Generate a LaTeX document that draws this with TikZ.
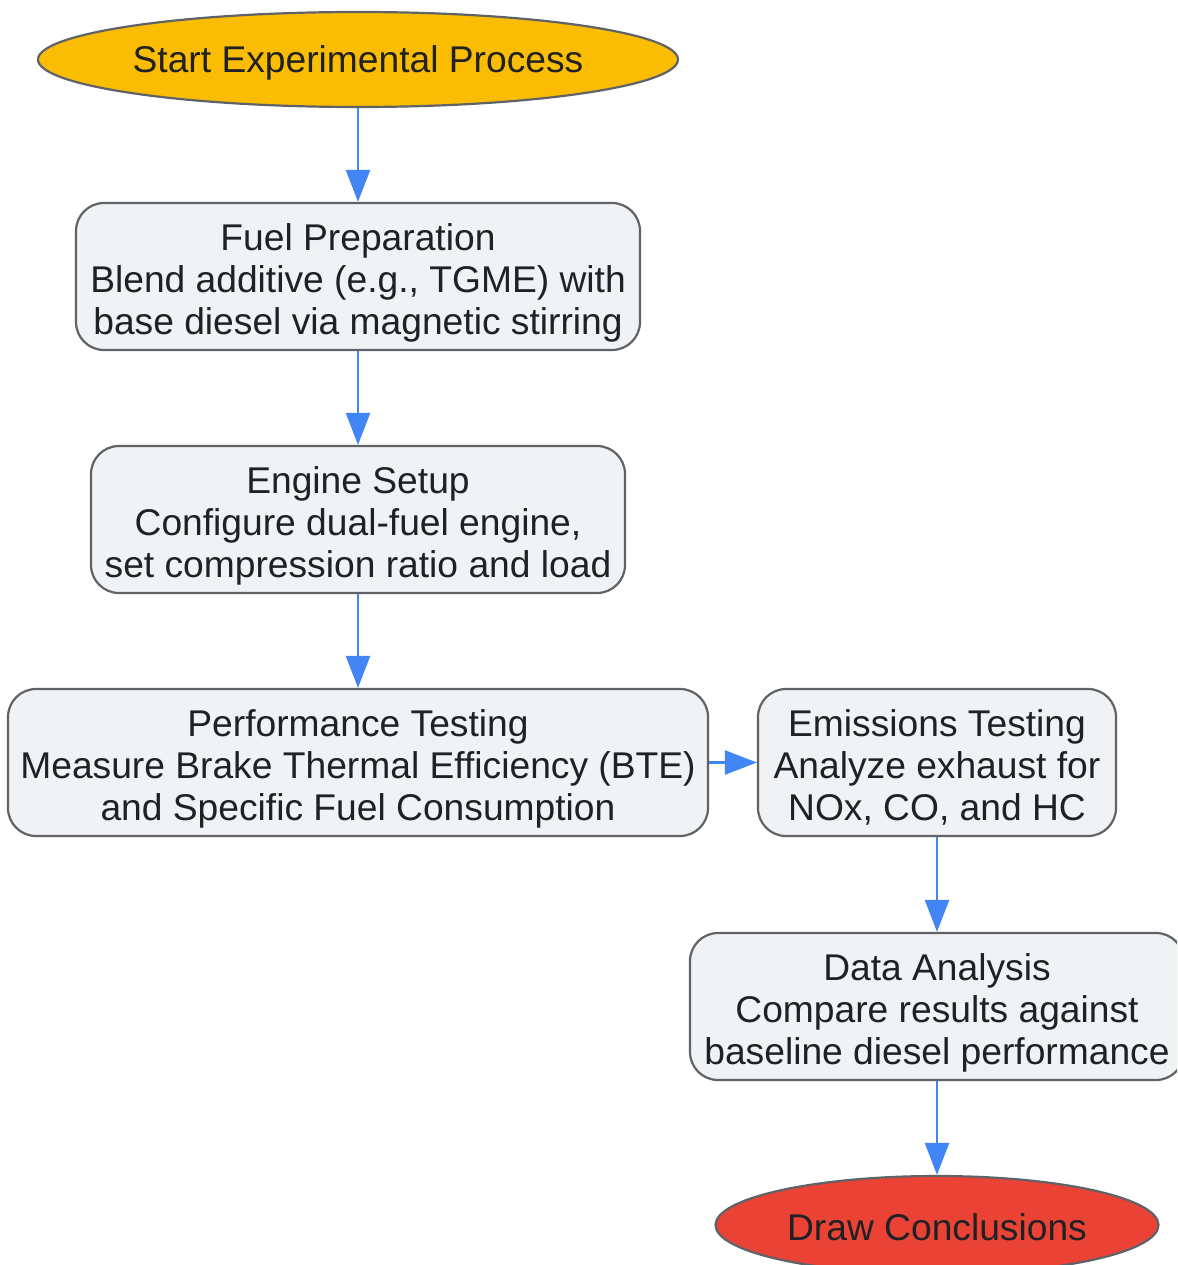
\documentclass[tikz,border=0pt]{standalone}
\usepackage{fontspec}
\setmainfont{Liberation Sans}
\usetikzlibrary{shapes.geometric,arrows.meta}
\definecolor{gyellow}{HTML}{FBBC04}
\definecolor{gred}{HTML}{EA4335}
\definecolor{gblue}{HTML}{4285F4}
\definecolor{boxfill}{HTML}{F1F2F4}
\definecolor{boxline}{HTML}{5F6368}
\definecolor{txt}{HTML}{202124}
\newcommand{\mlines}[1]{\raisebox{-8pt}[\height][\depth]{\begin{tabular}{@{}c@{}}#1\end{tabular}}}
\newcommand{\lowered}[2]{\raisebox{-#1}[\height][\depth]{#2}}
\tikzset{
  base/.style={draw=boxline, line width=2.2pt, text=txt, align=center, inner sep=0pt,
    font=\fontsize{37.2}{42}\selectfont},
  stepbox/.style={base, rectangle, rounded corners=28pt, fill=boxfill, minimum height=147pt},
  term/.style={base, ellipse, minimum height=95pt},
  arr/.style={draw=gblue, line width=2.5pt, -{Triangle[length=32pt,width=24pt]}}
}
\begin{document}
\begin{tikzpicture}[x=1pt,y=-1pt]
\useasboundingbox (0,0) rectangle (1177,1265);
\clip (0,0) rectangle (1177,1265);
\node[term, fill=gyellow, minimum width=640pt] (start) at (358,59.5) {\lowered{3pt}{Start Experimental Process}};
\node[stepbox, minimum width=564pt] (fuel) at (358,276.5) {\mlines{Fuel Preparation\\Blend additive (e.g., TGME) with\\base diesel via magnetic stirring}};
\node[stepbox, minimum width=534pt] (engine) at (358,519.5) {\mlines{Engine Setup\\Configure dual-fuel engine,\\set compression ratio and load}};
\node[stepbox, minimum width=700pt] (perf) at (358,762.5) {\mlines{Performance Testing\\Measure Brake Thermal Efficiency (BTE)\\and Specific Fuel Consumption}};
\node[stepbox, minimum width=358pt] (emis) at (937,762.5) {\mlines{Emissions Testing\\Analyze exhaust for\\NOx, CO, and HC}};
\node[stepbox, minimum width=494pt] (data) at (937,1006.5) {\mlines{Data Analysis\\Compare results against\\baseline diesel performance}};
\node[term, fill=gred, minimum width=443pt, minimum height=98pt] (concl) at (937,1225) {\lowered{2pt}{Draw Conclusions}};
\draw[arr] (start) -- (fuel);
\draw[arr] (fuel) -- (engine);
\draw[arr] (engine) -- (perf);
\draw[arr] (perf) -- (emis);
\draw[arr] (emis) -- (data);
\draw[arr] (data) -- (concl);
\end{tikzpicture}
\end{document}
